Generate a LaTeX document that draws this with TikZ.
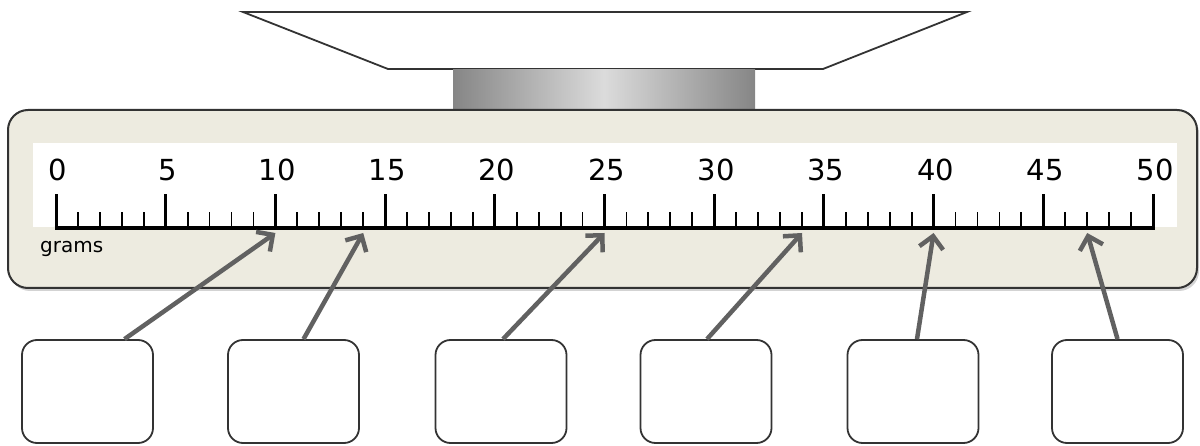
\documentclass[tikz,border=0pt]{standalone}
\usepackage{fontspec}
\setmainfont{DejaVu Sans}
\usetikzlibrary{arrows.meta,shadows}
\definecolor{basefill}{HTML}{EDEBE0}
\definecolor{arrowgray}{HTML}{616161}
\definecolor{edgegray}{HTML}{333333}
\tikzset{
  answerbox/.style={draw=edgegray, line width=1.8pt, rounded corners=15pt, minimum width=131pt, minimum height=103pt, inner sep=0pt, fill=white},
  pointer/.style={draw=arrowgray, line width=4.5pt, -{Straight Barb[length=12pt,width=24pt,line width=4.5pt]}},
  numlabel/.style={font=\fontsize{29}{29}\selectfont, inner sep=0pt, anchor=center},
  majortick/.style={line width=3pt},
  minortick/.style={line width=1.8pt}
}
\begin{document}
\begin{tikzpicture}[x=1pt,y=-1pt]
\useasboundingbox (0,0) rectangle (1200,446);
% pan
\draw[line width=1.8pt, draw=edgegray, fill=white] (243,12) -- (967,12) -- (823,69) -- (388,69) -- cycle;
% pillar
\shade[left color=gray!95, right color=gray!95, middle color=gray!28] (453,70) rectangle (755,110);
% base
\node[draw=edgegray, line width=2pt, fill=basefill, rounded corners=20pt, minimum width=1189pt, minimum height=178pt, drop shadow={shadow xshift=2pt, shadow yshift=-3pt, opacity=0.35}] (base) at (602.5,199) {};
% white strip
\fill[white] (33,143) rectangle (1177,227);
% ruler
\draw[line width=3.5pt] (54.5,228) -- (1154.5,228);
\foreach \i in {0,...,50}{
  \pgfmathsetmacro{\xx}{56+\i*21.94}
  \pgfmathtruncatemacro{\m}{mod(\i,5)}
  \ifnum\m=0
    \draw[majortick] (\xx,229) -- (\xx,194);
  \else
    \draw[minortick] (\xx,229) -- (\xx,212);
  \fi
}
\foreach \v in {0,5,...,50}{
  \pgfmathsetmacro{\xx}{58+\v*21.94}
  \node[numlabel] (lab\v) at (\xx,170) {\v};
}
\node[font=\fontsize{20}{20}\selectfont, anchor=west, inner sep=0pt] (grams) at (40,249) {grams};
% target points
\coordinate (t10) at (275.4,233);
\coordinate (t14) at (363.2,233);
\coordinate (t25) at (604.5,233);
\coordinate (t34) at (802,233);
\coordinate (t40) at (933.6,233);
\coordinate (t47) at (1087.2,233);
% boxes
\node[answerbox] (b1) at (87.5,391.5) {};
\node[answerbox] (b2) at (293.5,391.5) {};
\node[answerbox] (b3) at (501,391.5) {};
\node[answerbox] (b4) at (706,391.5) {};
\node[answerbox] (b5) at (913,391.5) {};
\node[answerbox] (b6) at (1117.5,391.5) {};
% arrows
\draw[pointer] ([xshift=37pt]b1.north) -- (t10);
\draw[pointer] ([xshift=10pt]b2.north) -- (t14);
\draw[pointer] ([xshift=2pt]b3.north) -- (t25);
\draw[pointer] ([xshift=1pt]b4.north) -- (t34);
\draw[pointer] ([xshift=4pt]b5.north) -- (t40);
\draw[pointer] ([xshift=0pt]b6.north) -- (t47);
\end{tikzpicture}
\end{document}
